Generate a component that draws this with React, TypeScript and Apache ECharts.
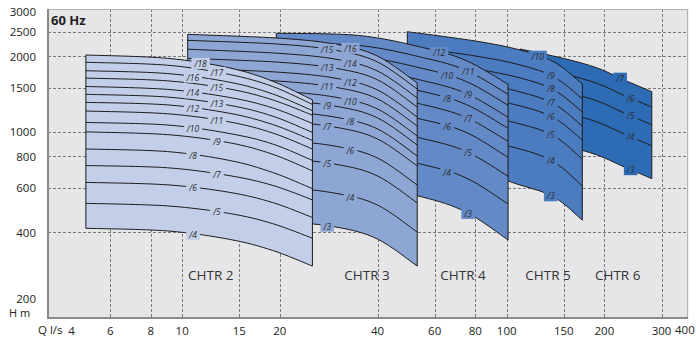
import React, { useEffect, useRef } from 'react';
import * as echarts from 'echarts';

// ---------- axis ticks ----------
const xTickLabels = [4, 6, 8, 10, 15, 20, 40, 60, 80, 100, 150, 200, 300];
const xGridValues = [6, 8, 10, 15, 20, 40, 60, 80, 100, 150, 200, 300];
const yTickLabels = [200, 400, 600, 800, 1000, 1500, 2000, 2500, 3000];
const yGridValues = [400, 600, 800, 1000, 1500, 2000, 2500];
const qRange = [3.86, 362];
const hRange = [182.2, 3077];

// ---------- CHTR 2 ----------
const chtr2Q = [5.05, 9, 14, 19, 25.2];
const chtr2Stages = [18, 17, 16, 15, 14, 13, 12, 11, 10, 9, 8, 7, 6, 5, 4];
const chtr2H = [
  [2020, 1960, 1795, 1590, 1340],
  [1890, 1840, 1690, 1515, 1285],
  [1750, 1705, 1575, 1415, 1215],
  [1635, 1595, 1480, 1340, 1165],
  [1515, 1475, 1370, 1245, 1080],
  [1410, 1375, 1275, 1155, 995],
  [1310, 1280, 1185, 1070, 925],
  [1210, 1180, 1095, 990, 855],
  [1090, 1065, 985, 895, 770],
  [1000, 975, 905, 815, 700],
  [855, 835, 770, 690, 595],
  [735, 720, 670, 613, 537],
  [630, 616, 575, 524, 457],
  [520, 508, 474, 432, 378],
  [414, 404, 374, 338, 293],
];
const chtr2LabelQ = [11.4, 12.8, 10.8, 12.8, 10.8, 12.8, 10.8, 12.8, 10.8, 12.8, 10.8, 12.8, 10.8, 12.8, 10.8];

// ---------- CHTR 3 ----------
const chtr3Q = [10.4, 20, 30, 40, 53];
const chtr3Stages = [16, 15, 14, 13, 12, 11, 10, 9, 8, 7, 6, 5, 4, 3];
const chtr3H = [
  [2440, 2355, 2225, 2000, 1565],
  [2310, 2230, 2105, 1895, 1480],
  [2130, 2050, 1940, 1745, 1365],
  [1960, 1890, 1785, 1610, 1255],
  [1790, 1725, 1630, 1467, 1146],
  [1648, 1590, 1500, 1352, 1055],
  [1505, 1450, 1370, 1233, 963],
  [1386, 1335, 1262, 1136, 887],
  [1253, 1208, 1141, 1027, 802],
  [1143, 1102, 1041, 937, 732],
  [961, 926, 875, 787, 615],
  [814, 785, 742, 668, 522],
  [625, 603, 569, 512, 400],
  [457, 441, 418, 375, 293],
];
const chtr3LabelQ = [33, 28, 33, 28, 33, 28, 33, 28, 33, 28, 33, 28, 33, 28];

// ---------- CHTR 4 ----------
const chtr4Q = [19.5, 35, 55, 75, 101];
const chtr4Stages = [12, 11, 10, 9, 8, 7, 6, 5, 4, 3];
const chtr4H = [
  [2465, 2415, 2165, 1920, 1545],
  [2250, 2205, 1975, 1755, 1410],
  [2035, 1995, 1787, 1586, 1276],
  [1823, 1787, 1600, 1422, 1143],
  [1648, 1616, 1448, 1285, 1033],
  [1463, 1435, 1285, 1141, 917],
  [1276, 1251, 1120, 995, 792],
  [1072, 1051, 941, 836, 666],
  [845, 828, 742, 656, 517],
  [631, 618, 551, 480, 372],
];
const chtr4LabelQ = [61.9, 76.1, 65.5, 76.1, 65.5, 76.1, 65.5, 76.1, 65.5, 76.1];

// ---------- CHTR 5 ----------
const chtr5Q = [49.4, 80, 110, 140, 171];
const chtr5Stages = [10, 9, 8, 7, 6, 5, 4, 3];
const chtr5H = [
  [2500, 2296, 2115, 1896, 1550],
  [2180, 2002, 1844, 1653, 1352],
  [1935, 1778, 1638, 1467, 1200],
  [1704, 1565, 1441, 1291, 1055],
  [1499, 1377, 1268, 1136, 928],
  [1271, 1167, 1075, 963, 780],
  [1011, 928, 855, 759, 610],
  [759, 693, 615, 551, 446],
];
const chtr5LabelQ = [124.6, 136.7, 136.7, 136.7, 136.7, 136.7, 136.7, 136.7];

// ---------- CHTR 6 ----------
const chtr6Q = [110, 150, 190, 230, 280];
const chtr6Stages = [7, 6, 5, 4, 3];
const chtr6H = [
  [2135, 1957, 1795, 1608, 1445],
  [1853, 1699, 1558, 1396, 1254],
  [1579, 1448, 1327, 1189, 1068],
  [1303, 1195, 1095, 981, 881],
  [963, 883, 809, 726, 652],
];
const chtr6LabelQ = [223.6, 241, 241, 241, 241];

const familyNames = ['CHTR 2', 'CHTR 3', 'CHTR 4', 'CHTR 5', 'CHTR 6'];
const familyColors = ['#c3cee8', '#8ea6d4', '#6389c6', '#4b7cc0', '#2d6cb4'];

const families = [
  { q: chtr2Q, stages: chtr2Stages, h: chtr2H, labelQ: chtr2LabelQ },
  { q: chtr3Q, stages: chtr3Stages, h: chtr3H, labelQ: chtr3LabelQ },
  { q: chtr4Q, stages: chtr4Stages, h: chtr4H, labelQ: chtr4LabelQ },
  { q: chtr5Q, stages: chtr5Stages, h: chtr5H, labelQ: chtr5LabelQ },
  { q: chtr6Q, stages: chtr6Stages, h: chtr6H, labelQ: chtr6LabelQ },
];

const L = Math.log10;
const FONT = '"Open Sans", "Noto Sans", sans-serif';

function segs(pts: number[][]) {
  let d = '';
  for (let i = 0; i < pts.length - 1; i++) {
    const p0 = pts[Math.max(i - 1, 0)];
    const p1 = pts[i];
    const p2 = pts[i + 1];
    const p3 = pts[Math.min(i + 2, pts.length - 1)];
    const c1x = p1[0] + (p2[0] - p0[0]) / 6;
    const c1y = p1[1] + (p2[1] - p0[1]) / 6;
    const c2x = p2[0] - (p3[0] - p1[0]) / 6;
    const c2y = p2[1] - (p3[1] - p1[1]) / 6;
    d += ` C ${c1x} ${c1y} ${c2x} ${c2y} ${p2[0]} ${p2[1]}`;
  }
  return d;
}

function hAt(q: number[], h: number[], lq: number) {
  const x = L(lq);
  for (let i = 0; i < q.length - 1; i++) {
    const a = L(q[i]);
    const b = L(q[i + 1]);
    if (x >= a && x <= b) {
      const t = (x - a) / (b - a);
      return L(h[i]) + t * (L(h[i + 1]) - L(h[i]));
    }
  }
  return L(h[h.length - 1]);
}

function pieces(a: number, b: number, step: number) {
  const out: number[][] = [];
  for (let s = a; s < b; s += step) out.push([s, Math.min(s + step, b)]);
  return out;
}

// plot background, dashed grid and frame, drawn in short pieces
function gridChildren(api: any) {
  const tl = api.coord([L(qRange[0]), L(hRange[1])]);
  const br = api.coord([L(qRange[1]), L(hRange[0])]);
  const x0 = tl[0], y0 = tl[1], x1 = br[0], y1 = br[1];
  const out: any[] = [];
  const colsX = pieces(x0, x1, 80);
  const rowsY = pieces(y0, y1, 80);
  colsX.forEach(([a, b]) => {
    rowsY.forEach(([c, d]) => {
      out.push({
        type: 'path',
        shape: { pathData: `M ${a} ${c} L ${b + 0.6} ${c} L ${b + 0.6} ${d + 0.6} L ${a} ${d + 0.6} Z` },
        style: { fill: '#e6e6e8', stroke: 'none' },
      });
    });
  });
  const dashStyle = { fill: 'none', stroke: '#7a7a7c', lineWidth: 1, lineDash: [3, 2] };
  xGridValues.forEach((q) => {
    const x = Math.round(api.coord([L(q), L(1000)])[0]) + 0.5;
    pieces(y0, y1, 40).forEach(([a, b]) => {
      out.push({ type: 'path', shape: { pathData: `M ${x} ${a} L ${x} ${b}` }, style: { ...dashStyle } });
    });
  });
  yGridValues.forEach((h) => {
    const y = Math.round(api.coord([L(10), L(h)])[1]) + 0.5;
    pieces(x0, x1, 40).forEach(([a, b]) => {
      out.push({ type: 'path', shape: { pathData: `M ${a} ${y} L ${b} ${y}` }, style: { ...dashStyle } });
    });
  });
  // light top and right border
  pieces(x0, x1, 40).forEach(([a, b]) => {
    out.push({ type: 'path', shape: { pathData: `M ${a} ${y0 + 0.5} L ${b} ${y0 + 0.5}` }, style: { fill: 'none', stroke: '#b2b2b4', lineWidth: 1 } });
  });
  pieces(y0, y1, 40).forEach(([a, b]) => {
    out.push({ type: 'path', shape: { pathData: `M ${x1 - 0.5} ${a} L ${x1 - 0.5} ${b}` }, style: { fill: 'none', stroke: '#b2b2b4', lineWidth: 1 } });
  });
  // darker left and bottom axis lines
  pieces(y0, y1 + 1, 40).forEach(([a, b]) => {
    out.push({ type: 'path', shape: { pathData: `M ${x0} ${a} L ${x0} ${b}` }, style: { fill: 'none', stroke: '#8a8a8c', lineWidth: 2 } });
  });
  pieces(x0 - 1, x1, 40).forEach(([a, b]) => {
    out.push({ type: 'path', shape: { pathData: `M ${a} ${y1} L ${b} ${y1}` }, style: { fill: 'none', stroke: '#8a8a8c', lineWidth: 2 } });
  });
  return out;
}

function familySeries(idx: number, withGrid: boolean) {
  const fam = families[idx];
  const color = familyColors[idx];
  return {
    type: 'custom',
    coordinateSystem: 'cartesian2d',
    z: 10 - idx,
    silent: true,
    data: [[L(fam.q[0]), L(fam.h[0][0])]],
    encode: { x: 0, y: 1 },
    renderItem: (params: any, api: any) => {
      const children: any[] = withGrid ? gridChildren(api) : [];
      const curves = fam.h.map((hs) => fam.q.map((q, i) => api.coord([L(q), L(hs[i])])));
      const top = curves[0];
      const bot = curves[curves.length - 1];
      const botRev = [...bot].reverse();
      const fillD =
        `M ${top[0][0]} ${top[0][1]}` + segs(top) +
        ` L ${botRev[0][0]} ${botRev[0][1]}` + segs(botRev) + ' Z';
      children.push({ type: 'path', shape: { pathData: fillD }, style: { fill: color, stroke: 'none' } });
      curves.forEach((c) => {
        children.push({
          type: 'path',
          shape: { pathData: `M ${c[0][0]} ${c[0][1]}` + segs(c) },
          style: { fill: 'none', stroke: '#1c1c1c', lineWidth: 1 },
        });
      });
      const n = top.length - 1;
      children.push({
        type: 'line',
        shape: { x1: top[0][0], y1: top[0][1], x2: bot[0][0], y2: bot[0][1] },
        style: { stroke: '#1c1c1c', lineWidth: 1 },
      });
      children.push({
        type: 'line',
        shape: { x1: top[n][0], y1: top[n][1], x2: bot[n][0], y2: bot[n][1] },
        style: { stroke: '#1c1c1c', lineWidth: 1 },
      });
      fam.stages.forEach((s, k) => {
        const lq = fam.labelQ[k];
        const p = api.coord([L(lq), hAt(fam.q, fam.h[k], lq)]);
        children.push({
          type: 'text',
          x: p[0],
          y: p[1],
          style: {
            text: '/' + s,
            fill: '#2b2b2b',
            font: `italic 8.5px ${FONT}`,
            align: 'center',
            verticalAlign: 'middle',
            backgroundColor: color,
            padding: [1, 3, 1, 3],
          },
        });
      });
      return { type: 'group', children };
    },
  };
}

export default function App() {
  const ref = useRef<HTMLDivElement>(null);
  useEffect(() => {
    if (!ref.current) return;
    const chart = echarts.init(ref.current, undefined, { renderer: 'svg' });
    const labelStyle = { color: '#222', fontSize: 11.5, fontFamily: FONT };
    const option: any = {
      animation: false,
      grid: { left: 48, right: 8, top: 9, bottom: 21 },
      xAxis: {
        type: 'value',
        min: L(qRange[0]),
        max: L(qRange[1]),
        axisLine: { show: false },
        axisTick: { show: false },
        splitLine: { show: false },
        axisLabel: {
          ...labelStyle,
          margin: 6,
          customValues: xTickLabels.map((v) => L(v)),
          formatter: (v: number) => {
            const q = Math.round(Math.pow(10, v));
            return q === 4 ? '{sh|4}' : String(q);
          },
          rich: { sh: { ...labelStyle, padding: [0, 0, 0, 37] } },
        },
      },
      yAxis: {
        type: 'value',
        min: L(hRange[0]),
        max: L(hRange[1]),
        axisLine: { show: false },
        axisTick: { show: false },
        splitLine: { show: false },
        axisLabel: {
          ...labelStyle,
          margin: 12,
          customValues: yTickLabels.map((v) => L(v)),
          formatter: (v: number) => {
            const h = Math.round(Math.pow(10, v));
            return h === 200 ? '{up|200}' : String(h);
          },
          rich: { up: { ...labelStyle, padding: [0, 0, 18, 0] } },
        },
      },
      graphic: [
        { type: 'text', left: 51, top: 13, style: { text: '60 Hz', font: `bold 13px ${FONT}`, fill: '#1e1e1e' }, z: 50 },
        { type: 'text', left: 9, top: 307, style: { text: 'H m', font: `11px ${FONT}`, fill: '#222' }, z: 50 },
        { type: 'text', left: 38, top: 323, style: { text: 'Q l/s', font: `11.5px ${FONT}`, fill: '#222' }, z: 50 },
        { type: 'text', left: 675, top: 323, style: { text: '400', font: `11.5px ${FONT}`, fill: '#222' }, z: 50 },
        ...familyNames.map((name, i) => ({
          type: 'text',
          x: [210.8, 367, 463, 548, 617.7][i],
          y: 275,
          style: { text: name, font: `13.5px ${FONT}`, fill: '#333', align: 'center', verticalAlign: 'middle' },
          z: 50,
        })),
      ],
      series: [
        familySeries(4, true),
        familySeries(3, false),
        familySeries(2, false),
        familySeries(1, false),
        familySeries(0, false),
      ],
    };
    chart.setOption(option);
    return () => chart.dispose();
  }, []);
  return <div ref={ref} style={{ position: 'absolute', left: 0, top: 0, width: 696, height: 339 }} />;
}
